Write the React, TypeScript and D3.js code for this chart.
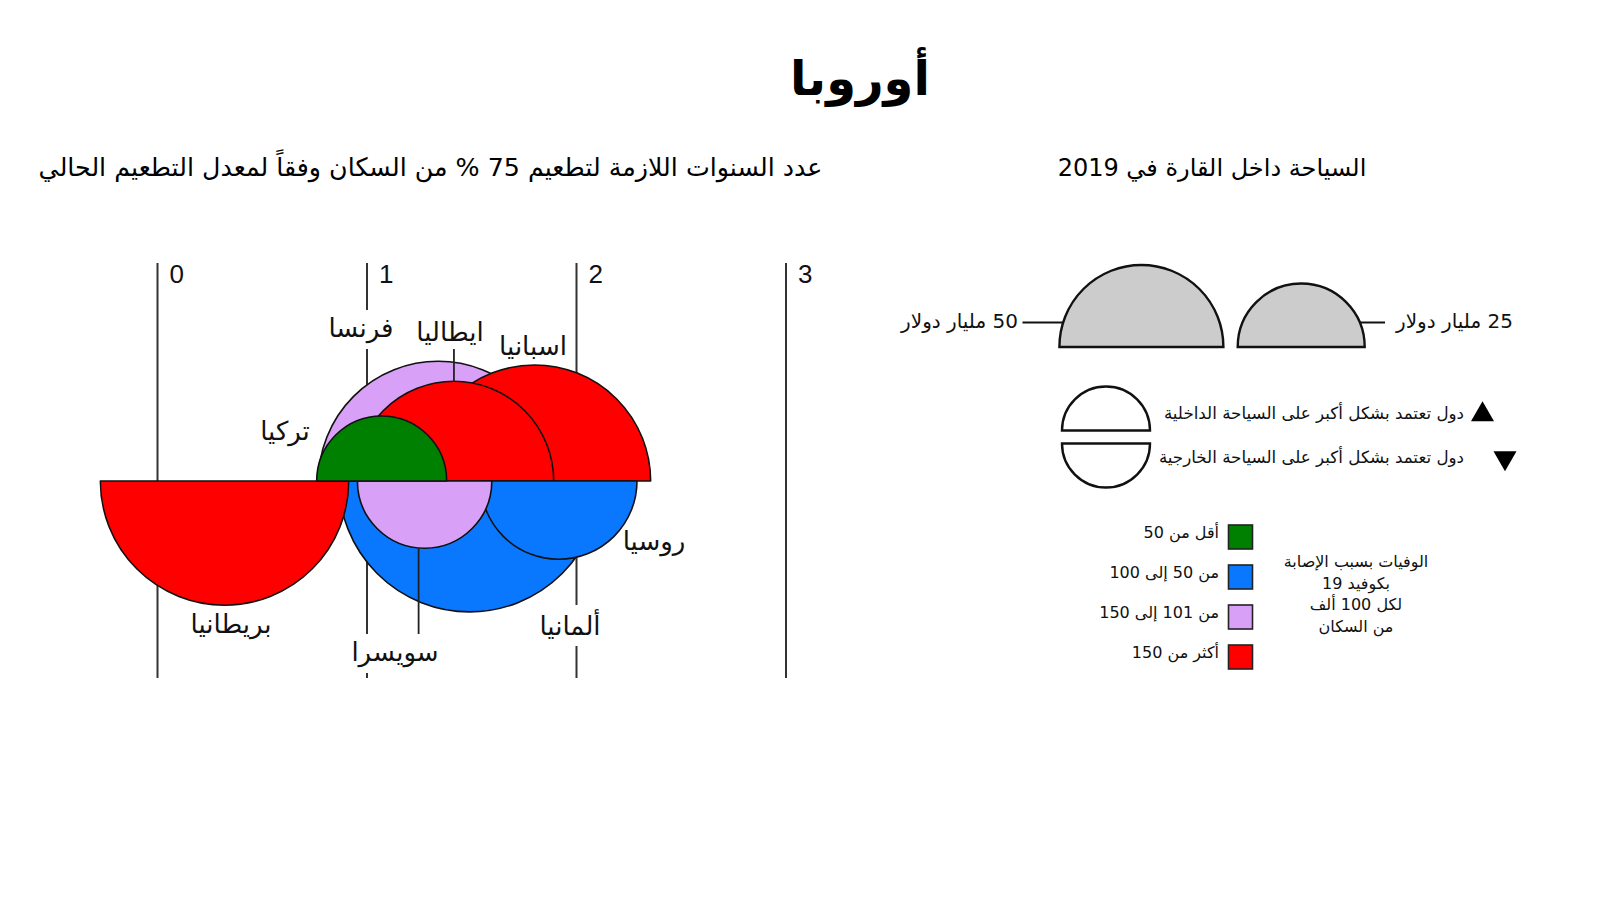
import React, { useLayoutEffect, useRef, useState } from "react";
import * as d3 from "d3";

// ---------- data ----------
const countries = ["تركيا", "فرنسا", "ايطاليا", "اسبانيا", "بريطانيا", "ألمانيا", "سويسرا", "روسيا"];
const yearsTo75 = [1.07, 1.34, 1.415, 1.8, 0.32, 1.49, 1.275, 1.915];
const tourismBn = [27, 101, 74, 96, 107, 116, 30, 45];
const dependence = ["domestic", "domestic", "domestic", "domestic", "foreign", "foreign", "foreign", "foreign"];
const deathsPer100k = [45, 140, 210, 180, 190, 95, 125, 90];

const yearTicks = [0, 1, 2, 3];
const deathThresholds = [50, 101, 151];
const deathColors = ["#008000", "#0a77ff", "#d9a0f7", "#ff0000"];
const deathLabels = ["أقل من 50", "من 50 إلى 100", "من 101 إلى 150", "أكثر من 150"];
const deathTitleLines = ["الوفيات بسبب الإصابة", "بكوفيد 19", "لكل 100 ألف", "من السكان"];
const sizeLegendValues = [50, 25];
const sizeLegendLabels = ["50 مليار دولار", "25 مليار دولار"];
const dependenceLabels = [
  "دول تعتمد بشكل أكبر على السياحة الداخلية",
  "دول تعتمد بشكل أكبر على السياحة الخارجية",
];

const TITLE = "أوروبا";
const LEFT_SUBTITLE = "عدد السنوات اللازمة لتطعيم 75 % من السكان وفقاً لمعدل التطعيم الحالي";
const RIGHT_SUBTITLE = "السياحة داخل القارة في 2019";

// ---------- layout ----------
const AR = "'DejaVu Sans', sans-serif";
const LAT = "'Liberation Sans', Arial, sans-serif";
const STROKE = "#111";
const baseY = 481;
const axisTop = 263;
const axisBottom = 678;

const labelLayout: Record<string, { x: number; y: number; pointer?: "up" | "down" }> = {
  "فرنسا": { x: 361, y: 337 },
  "ايطاليا": { x: 450, y: 341, pointer: "up" },
  "اسبانيا": { x: 533, y: 355 },
  "تركيا": { x: 285, y: 440 },
  "بريطانيا": { x: 231, y: 633 },
  "سويسرا": { x: 395, y: 661, pointer: "down" },
  "ألمانيا": { x: 570, y: 635 },
  "روسيا": { x: 654, y: 550 },
};

export default function App() {
  const x = d3.scaleLinear().domain([0, 3]).range([157.5, 786]);
  const r = d3.scaleLinear().domain([25, 50]).range([63.5, 82]);
  const color = d3.scaleThreshold<number, string>().domain(deathThresholds).range(deathColors);

  const rows = countries.map((name, i) => ({
    name,
    year: yearsTo75[i],
    value: tourismBn[i],
    dep: dependence[i],
    deaths: deathsPer100k[i],
  }));
  const drawOrder = [...rows].sort((a, b) => b.value - a.value);

  const arc = d3
    .arc<any>()
    .innerRadius(0)
    .outerRadius((d: any) => r(d.value))
    .startAngle((d: any) => (d.dep === "domestic" ? -Math.PI / 2 : Math.PI / 2))
    .endAngle((d: any) => (d.dep === "domestic" ? Math.PI / 2 : (3 * Math.PI) / 2));

  const labelRefs = useRef<Record<string, SVGTextElement | null>>({});
  const [boxes, setBoxes] = useState<Record<string, { x: number; y: number; width: number; height: number }>>({});
  useLayoutEffect(() => {
    const b: Record<string, any> = {};
    Object.entries(labelRefs.current).forEach(([k, el]) => {
      if (el) {
        const bb = el.getBBox();
        b[k] = { x: bb.x, y: bb.y, width: bb.width, height: bb.height };
      }
    });
    setBoxes(b);
  }, []);

  // size legend geometry
  const legendBase = 347;
  const bigR = r(sizeLegendValues[0]);
  const smallR = r(sizeLegendValues[1]);
  const bigCx = 1141.4;
  const smallCx = bigCx + bigR + 14.3 + smallR;
  const leaderY = 322.5;
  const chordX = (rr: number, dy: number) => Math.sqrt(rr * rr - dy * dy);
  const halfEllipse = (cx: number, y: number, rx: number, ry: number, up: boolean) =>
    `M${cx - rx},${y} A${rx},${ry} 0 0 ${up ? 1 : 0} ${cx + rx},${y} Z`;

  const tri = d3.symbol(d3.symbolTriangle, 230)();

  return (
    <svg width={1600} height={900} style={{ display: "block", position: "absolute", left: 0, top: 0, background: "#fff" }}>
      <rect width={1600} height={900} fill="#fff" />
      {/* titles */}
      <text x={860} y={95} textAnchor="middle" fontFamily={AR} fontWeight="bold" fontSize={48} fill="#000">
        {TITLE}
      </text>
      <text x={430.5} y={176} textAnchor="middle" direction="rtl" fontFamily={AR} fontSize={25.3} fill="#000">
        {LEFT_SUBTITLE}
      </text>
      <text x={1212} y={176} textAnchor="middle" direction="rtl" fontFamily={AR} fontSize={24} fill="#000">
        {RIGHT_SUBTITLE}
      </text>

      {/* axis lines */}
      {yearTicks.map((t) => (
        <g key={t}>
          <line x1={x(t)} x2={x(t)} y1={axisTop} y2={axisBottom} stroke="#333" strokeWidth={2} />
          <text x={x(t) + 12} y={283} fontFamily={LAT} fontSize={26} fill="#111">
            {t}
          </text>
        </g>
      ))}

      {/* knockouts behind labels */}
      {Object.entries(boxes).map(([k, b]) => (
        <rect key={k} x={b.x - 2} y={b.y - 3} width={b.width + 4} height={b.height + 8} fill="#fff" />
      ))}

      {/* semicircles */}
      {drawOrder.map((d) => (
        <path
          key={d.name}
          d={arc(d) as string}
          transform={`translate(${x(d.year)},${baseY})`}
          fill={color(d.deaths)}
          stroke={STROKE}
          strokeWidth={1.6}
          strokeLinejoin="round"
        />
      ))}

      {/* pointers */}
      {rows.map((d) => {
        const L = labelLayout[d.name];
        const b = boxes[d.name];
        if (!L.pointer || !b) return null;
        const cx = x(d.year);
        const rr = r(d.value);
        if (L.pointer === "up") {
          return <line key={d.name} x1={cx} x2={cx} y1={b.y + b.height + 2} y2={baseY - rr} stroke="#222" strokeWidth={1.8} />;
        }
        const px = cx - 6;
        return (
          <line key={d.name} x1={px} x2={px} y1={baseY + chordX(rr, 6)} y2={b.y - 3} stroke="#222" strokeWidth={1.8} />
        );
      })}

      {/* country labels */}
      {rows.map((d) => {
        const L = labelLayout[d.name];
        return (
          <text
            key={d.name}
            ref={(el) => {
              labelRefs.current[d.name] = el;
            }}
            x={L.x}
            y={L.y}
            textAnchor="middle"
            direction="rtl"
            fontFamily={AR}
            fontSize={26}
            fill="#111"
          >
            {d.name}
          </text>
        );
      })}

      {/* size legend */}
      <path d={halfEllipse(bigCx, legendBase, bigR, bigR, true)} fill="#cccccc" stroke={STROKE} strokeWidth={2.4} />
      <path d={halfEllipse(smallCx, legendBase, smallR, smallR, true)} fill="#cccccc" stroke={STROKE} strokeWidth={2.4} />
      <line
        x1={1022.5}
        x2={bigCx - chordX(bigR, legendBase - leaderY)}
        y1={leaderY}
        y2={leaderY}
        stroke={STROKE}
        strokeWidth={2}
      />
      <line
        x1={smallCx + chordX(smallR, legendBase - leaderY)}
        x2={1385}
        y1={leaderY}
        y2={leaderY}
        stroke={STROKE}
        strokeWidth={2}
      />
      <text x={1018} y={328} textAnchor="start" direction="rtl" fontFamily={AR} fontSize={20} fill="#111">
        {sizeLegendLabels[0]}
      </text>
      <text x={1396} y={328} textAnchor="end" direction="rtl" fontFamily={AR} fontSize={20} fill="#111">
        {sizeLegendLabels[1]}
      </text>

      {/* dependence legend */}
      <path d={halfEllipse(1106, 430.5, 44, 44, true)} fill="#fff" stroke={STROKE} strokeWidth={2.4} />
      <path d={halfEllipse(1106, 443.5, 44, 44, false)} fill="#fff" stroke={STROKE} strokeWidth={2.4} />
      <path d={tri as string} transform="translate(1482.5,414.5)" fill="#000" />
      <path d={tri as string} transform="translate(1505,458) rotate(180)" fill="#000" />
      {dependenceLabels.map((t, i) => (
        <text key={t} x={1464} y={[419, 463][i]} textAnchor="start" direction="rtl" fontFamily={AR} fontSize={16.7} fill="#111">
          {t}
        </text>
      ))}

      {/* death color legend */}
      {deathColors.map((c, i) => (
        <g key={c}>
          <rect x={1228.5} y={525 + i * 40} width={24} height={24} fill={c} stroke="#222" strokeWidth={1.6} />
          <text x={1219} y={538 + i * 40} textAnchor="start" direction="rtl" fontFamily={AR} fontSize={16} fill="#111">
            {deathLabels[i]}
          </text>
        </g>
      ))}
      {deathTitleLines.map((t, i) => (
        <text key={t} x={1356} y={567 + i * 21.5} textAnchor="middle" direction="rtl" fontFamily={AR} fontSize={16} fill="#111">
          {t}
        </text>
      ))}
    </svg>
  );
}
